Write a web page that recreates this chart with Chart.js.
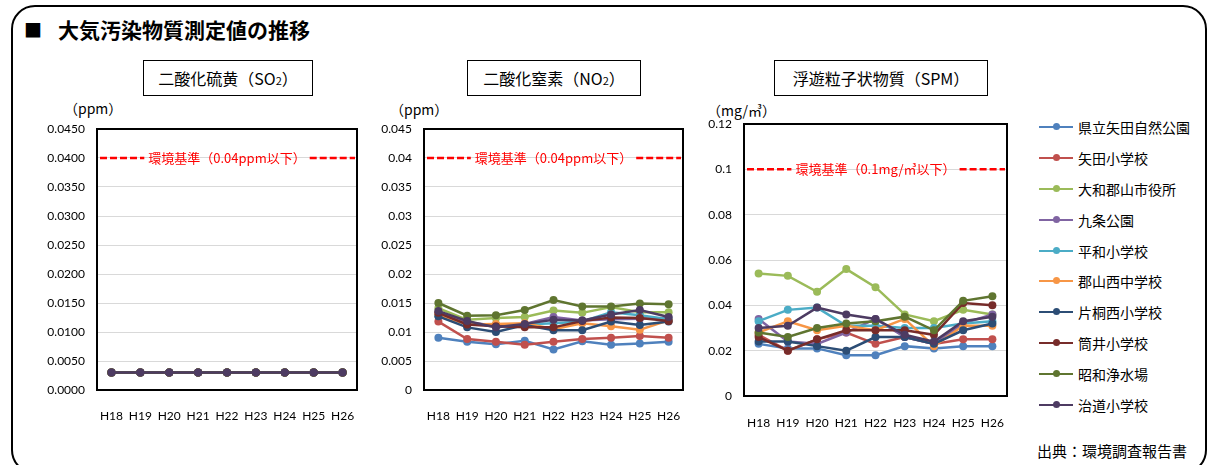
<!DOCTYPE html>
<html lang="ja">
<head>
<meta charset="utf-8">
<title>大気汚染物質測定値の推移</title>
<script src="https://cdn.jsdelivr.net/npm/chart.js@4.4.1/dist/chart.umd.min.js"></script>
<style>
  html, body { margin: 0; padding: 0; background: #fff; }
  body { width: 1215px; height: 465px; overflow: hidden; position: relative;
         font-family: "Noto Sans CJK JP", Lato, sans-serif; color: #000; }
  .frame { position: absolute; left: 11px; top: 5px; width: 1196px; height: 469px;
           border: 2px solid #000; border-radius: 24px; box-sizing: border-box; }
  .main-title { position: absolute; left: 24px; top: 14px; font-size: 21px; font-weight: bold;
                line-height: 30px; white-space: nowrap; }
  .main-title .sq { font-size: 18px; margin-right: 16px; vertical-align: 1px; }
  .chart-title { position: absolute; top: 60px; height: 36px; border: 1px solid #000;
                 box-sizing: border-box; font-size: 16px; line-height: 34px; text-align: center;
                 white-space: nowrap; }
  .chart-title .sub { font-size: 11px; }
  .unit { position: absolute; font-size: 14px; line-height: 16px; white-space: nowrap; }
  canvas.plot { position: absolute; }
  .legend { position: absolute; left: 1039px; top: 112px; }
  .legend .item { height: 30.8px; display: flex; align-items: center; white-space: nowrap; font-size: 14px; }
  .legend .swatch { position: relative; width: 34px; height: 2px; margin-right: 5px; }
  .legend .swatch i { position: absolute; left: 14px; top: -3px; width: 7px; height: 7px; border-radius: 50%; }
  .source { position: absolute; left: 1037px; top: 440px; font-size: 15px; line-height: 22px; white-space: nowrap; }
</style>
</head>
<body>
<div class="frame"></div>
<div class="main-title"><span class="sq">■</span>大気汚染物質測定値の推移</div>

<div class="chart-title" style="left:143px; width:170px;">二酸化硫黄（SO<span class="sub">2</span>）</div>
<div class="chart-title" style="left:467px; width:174px;">二酸化窒素（NO<span class="sub">2</span>）</div>
<div class="chart-title" style="left:774px; width:214px;">浮遊粒子状物質（SPM）</div>

<div class="unit" style="left:64px; top:100px;">（ppm）</div>
<div class="unit" style="left:390px; top:101px;">（ppm）</div>
<div class="unit" style="left:707px; top:102px;">（mg/㎥）</div>

<canvas class="plot" id="so2Chart" width="350" height="330" style="left:20px; top:100px;"></canvas>
<canvas class="plot" id="no2Chart" width="325" height="330" style="left:372px; top:100px;"></canvas>
<canvas class="plot" id="spmChart" width="320" height="340" style="left:700px; top:95px;"></canvas>

<div class="legend" id="legend"></div>
<div class="source">出典：環境調査報告書</div>

<script>
// 年度（平成）
const years = ['H18', 'H19', 'H20', 'H21', 'H22', 'H23', 'H24', 'H25', 'H26'];

// 測定局
const stations = ['県立矢田自然公園', '矢田小学校', '大和郡山市役所', '九条公園', '平和小学校',
                  '郡山西中学校', '片桐西小学校', '筒井小学校', '昭和浄水場', '治道小学校'];

// 二酸化硫黄 (ppm)  行 = 測定局（stations の順）
const so2Values = [
  [0.003, 0.003, 0.003, 0.003, 0.003, 0.003, 0.003, 0.003, 0.003],
  [0.003, 0.003, 0.003, 0.003, 0.003, 0.003, 0.003, 0.003, 0.003],
  [0.003, 0.003, 0.003, 0.003, 0.003, 0.003, 0.003, 0.003, 0.003],
  [0.003, 0.003, 0.003, 0.003, 0.003, 0.003, 0.003, 0.003, 0.003],
  [0.003, 0.003, 0.003, 0.003, 0.003, 0.003, 0.003, 0.003, 0.003],
  [0.003, 0.003, 0.003, 0.003, 0.003, 0.003, 0.003, 0.003, 0.003],
  [0.003, 0.003, 0.003, 0.003, 0.003, 0.003, 0.003, 0.003, 0.003],
  [0.003, 0.003, 0.003, 0.003, 0.003, 0.003, 0.003, 0.003, 0.003],
  [0.003, 0.003, 0.003, 0.003, 0.003, 0.003, 0.003, 0.003, 0.003],
  [0.003, 0.003, 0.003, 0.003, 0.003, 0.003, 0.003, 0.003, 0.003]
];

// 二酸化窒素 (ppm)
const no2Values = [
  [0.0090, 0.0083, 0.0079, 0.0085, 0.0070, 0.0084, 0.0078, 0.0080, 0.0083],
  [0.0118, 0.0088, 0.0083, 0.0078, 0.0083, 0.0088, 0.0090, 0.0093, 0.0090],
  [0.0141, 0.0121, 0.0124, 0.0126, 0.0137, 0.0133, 0.0143, 0.0134, 0.0134],
  [0.0133, 0.0117, 0.0111, 0.0114, 0.0126, 0.0120, 0.0122, 0.0123, 0.0124],
  [0.0128, 0.0114, 0.0113, 0.0113, 0.0115, 0.0118, 0.0134, 0.0129, 0.0122],
  [0.0130, 0.0113, 0.0114, 0.0115, 0.0105, 0.0115, 0.0110, 0.0104, 0.0120],
  [0.0127, 0.0108, 0.0100, 0.0112, 0.0103, 0.0103, 0.0118, 0.0112, 0.0118],
  [0.0133, 0.0113, 0.0110, 0.0108, 0.0108, 0.0119, 0.0125, 0.0124, 0.0119],
  [0.0150, 0.0128, 0.0129, 0.0138, 0.0155, 0.0144, 0.0144, 0.0149, 0.0148],
  [0.0136, 0.0119, 0.0108, 0.0114, 0.0121, 0.0120, 0.0130, 0.0138, 0.0126]
];

// 浮遊粒子状物質 (mg/㎥)
const spmValues = [
  [0.023, 0.021, 0.021, 0.018, 0.018, 0.022, 0.021, 0.022, 0.022],
  [0.027, 0.020, 0.025, 0.028, 0.023, 0.026, 0.023, 0.025, 0.025],
  [0.054, 0.053, 0.046, 0.056, 0.048, 0.036, 0.033, 0.038, 0.036],
  [0.034, 0.024, 0.023, 0.028, 0.034, 0.026, 0.023, 0.032, 0.036],
  [0.033, 0.038, 0.039, 0.031, 0.031, 0.030, 0.030, 0.032, 0.033],
  [0.028, 0.033, 0.029, 0.031, 0.029, 0.034, 0.022, 0.031, 0.031],
  [0.024, 0.024, 0.022, 0.020, 0.026, 0.026, 0.023, 0.029, 0.032],
  [0.026, 0.020, 0.025, 0.029, 0.029, 0.029, 0.027, 0.041, 0.040],
  [0.028, 0.026, 0.030, 0.032, 0.033, 0.035, 0.029, 0.042, 0.044],
  [0.030, 0.031, 0.039, 0.036, 0.034, 0.027, 0.024, 0.033, 0.035]
];

// 縦軸目盛ラベル
const so2TickLabels = ['0.0000', '0.0050', '0.0100', '0.0150', '0.0200', '0.0250', '0.0300', '0.0350', '0.0400', '0.0450'];
const no2TickLabels = ['0', '0.005', '0.01', '0.015', '0.02', '0.025', '0.03', '0.035', '0.04', '0.045'];
const spmTickLabels = ['0', '0.02', '0.04', '0.06', '0.08', '0.1', '0.12'];

// 環境基準
const so2Limit = 0.04;
const no2Limit = 0.04;
const spmLimit = 0.1;
const so2LimitLabel = '環境基準（0.04ppm以下）';
const no2LimitLabel = '環境基準（0.04ppm以下）';
const spmLimitLabel = '環境基準（0.1mg/㎥以下）';

// 系列の色
const stationColors = ['#4F81BD', '#C0504D', '#9BBB59', '#8064A2', '#4BACC6',
                       '#F79646', '#2C4D75', '#772C2A', '#5F7530', '#4D3B62'];

const LATIN = 'Lato, "Noto Sans CJK JP", sans-serif';

// 基準線（赤破線＋ラベル）と枠線
const limitPlugin = {
  id: 'envLimit',
  afterDraw(chart, args, opts) {
    const { ctx, chartArea: a } = chart;
    const py = chart.scales.y.getPixelForValue(opts.value);
    ctx.save();
    ctx.font = '13px "Noto Sans CJK JP", sans-serif';
    const w = ctx.measureText(opts.label).width;
    const cx = (a.left + a.right) / 2;
    const gap = 4;
    ctx.strokeStyle = '#FF0000';
    ctx.lineWidth = 2.5;
    ctx.setLineDash([7, 3]);
    ctx.beginPath();
    ctx.moveTo(a.left + 3, py);
    ctx.lineTo(cx - w / 2 - gap, py);
    ctx.stroke();
    ctx.beginPath();
    ctx.moveTo(cx + w / 2 + gap, py);
    ctx.lineTo(a.right - 2, py);
    ctx.stroke();
    ctx.setLineDash([]);
    ctx.fillStyle = '#FF0000';
    ctx.textAlign = 'center';
    ctx.textBaseline = 'middle';
    ctx.fillText(opts.label, cx, py);
    ctx.strokeStyle = '#000';
    ctx.lineWidth = 2;
    ctx.strokeRect(a.left, a.top, a.right - a.left, a.bottom - a.top);
    ctx.restore();
  }
};

function makeChart(id, rows, cfg) {
  const datasets = rows.map((vals, i) => ({
    label: stations[i],
    data: vals,
    borderColor: stationColors[i],
    backgroundColor: stationColors[i],
    pointBackgroundColor: stationColors[i],
    pointBorderColor: stationColors[i],
    borderWidth: 2.5,
    pointRadius: 4,
    pointBorderWidth: 0,
    tension: 0,
    order: rows.length - i
  }));
  return new Chart(document.getElementById(id), {
    type: 'line',
    data: { labels: years, datasets },
    plugins: [limitPlugin],
    options: {
      responsive: false,
      animation: false,
      devicePixelRatio: 1,
      layout: { padding: { top: cfg.padTop, right: cfg.padRight, left: 0, bottom: 0 } },
      plugins: {
        legend: { display: false },
        tooltip: { enabled: false },
        envLimit: { value: cfg.limit, label: cfg.limitLabel }
      },
      scales: {
        x: {
          type: 'category',
          offset: true,
          grid: { display: false },
          border: { display: false },
          ticks: { color: '#000', font: { family: LATIN, size: 12 }, padding: cfg.xPad,
                   maxRotation: 0, autoSkip: false },
          afterFit(s) { s.height = cfg.xHeight; }
        },
        y: {
          min: 0,
          max: cfg.max,
          ticks: {
            stepSize: cfg.step,
            color: '#000',
            font: { family: LATIN, size: 12 },
            padding: 12,
            callback: (v) => cfg.tickLabels[Math.round(v / cfg.step)]
          },
          grid: { color: '#D9D9D9', lineWidth: 1, drawTicks: false },
          border: { display: false },
          afterFit(s) { s.width = cfg.yWidth; }
        }
      }
    }
  });
}

makeChart('so2Chart', so2Values, {
  max: 0.045, step: 0.005, tickLabels: so2TickLabels, limit: so2Limit, limitLabel: so2LimitLabel,
  padTop: 29, padRight: 13, yWidth: 77, xHeight: 40, xPad: 11
});
makeChart('no2Chart', no2Values, {
  max: 0.045, step: 0.005, tickLabels: no2TickLabels, limit: no2Limit, limitLabel: no2LimitLabel,
  padTop: 29, padRight: 14, yWidth: 52, xHeight: 40, xPad: 11
});
makeChart('spmChart', spmValues, {
  max: 0.12, step: 0.02, tickLabels: spmTickLabels, limit: spmLimit, limitLabel: spmLimitLabel,
  padTop: 29, padRight: 13, yWidth: 44, xHeight: 39, xPad: 12
});

// 凡例
const legend = document.getElementById('legend');
stations.forEach((name, i) => {
  const item = document.createElement('div');
  item.className = 'item';
  const sw = document.createElement('span');
  sw.className = 'swatch';
  sw.style.background = stationColors[i];
  const dot = document.createElement('i');
  dot.style.background = stationColors[i];
  sw.appendChild(dot);
  const txt = document.createElement('span');
  txt.textContent = name;
  item.appendChild(sw);
  item.appendChild(txt);
  legend.appendChild(item);
});
</script>
</body>
</html>
